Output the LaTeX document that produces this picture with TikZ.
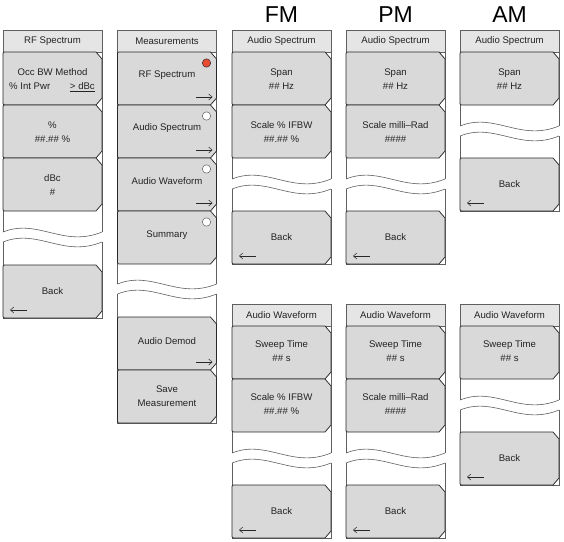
\documentclass[tikz,border=0pt]{standalone}
\usepackage{fontspec}
\setmainfont{Liberation Sans}
\usetikzlibrary{arrows.meta}
\definecolor{btngray}{RGB}{217,217,217}
\definecolor{hdrgray}{RGB}{229,229,229}
\definecolor{edgec}{RGB}{40,40,40}
\definecolor{framec}{RGB}{95,95,95}
\definecolor{selred}{RGB}{232,76,50}
\definecolor{txt}{RGB}{35,35,35}
\tikzset{
 btnshape/.style={draw=edgec, fill=btngray, line width=0.75pt},
 hdrbox/.style={draw=framec, fill=hdrgray, line width=0.6pt},
 framel/.style={draw=framec, line width=0.6pt},
 lbl/.style={font=\fontsize{9.6}{14}\selectfont, align=center, text=txt, inner sep=0pt},
 bigtitle/.style={font=\fontsize{23}{26}\selectfont, text=black, inner sep=0pt},
 fwd/.style={-{Straight Barb[length=3.5pt,width=6pt]}, draw=edgec, line width=0.5pt},
 selmark/.style={draw=edgec, fill=selred, line width=0.5pt},
 unselmark/.style={draw=framec, fill=white, line width=0.5pt},
}
% button: #1 = left x, #2 = top y, #3 = bottom y
\newcommand\mybtn[3]{%
  \draw[btnshape] ({#1+3.5},#2) -- ({#1+93},#2) -- ({#1+99},{#2+7}) -- ({#1+99},{#3-7}) -- ({#1+93},#3) -- ({#1+3.5},#3) .. controls (#1,#3) .. (#1,{#3-3.5}) -- (#1,{#2+3.5}) .. controls (#1,#2) .. ({#1+3.5},#2) -- cycle;}
% frame: #1 = left x, #2 = top y, #3 = upper wave y, #4 = bottom y
\newcommand\myframe[4]{%
  \draw[framel] (#1,#3) -- (#1,#2) -- ({#1+99},#2) -- ({#1+99},#3);
  \draw[framel] (#1,#3) .. controls ({#1+35},{#3-14}) and ({#1+60},{#3+16}) .. ({#1+99},#3);
  \draw[framel] (#1,{#3+10}) .. controls ({#1+35},{#3-4}) and ({#1+60},{#3+26}) .. ({#1+99},{#3+10});
  \draw[framel] (#1,{#3+10}) -- (#1,#4) -- ({#1+99},#4) -- ({#1+99},{#3+10});}
\newcommand\myhdr[2]{\draw[hdrbox] (#1,#2) rectangle ({#1+99},{#2+22});}
\newcommand\fwdarrow[2]{\draw[fwd] ({#1+78},{#2-8}) -- ({#1+95},{#2-8});}
\newcommand\bckarrow[2]{\draw[fwd] ({#1+24},{#2-8}) -- ({#1+7},{#2-8});}
\newcommand\selcirc[2]{\draw[selmark] ({#1+89},{#2+11}) circle (4.2);}
\newcommand\unselcirc[2]{\draw[unselmark] ({#1+89},{#2+11}) circle (4.2);}
\begin{document}
\begin{tikzpicture}[x=1pt,y=-1pt]
\useasboundingbox (0,0) rectangle (564,541);
% titles
\node[bigtitle] (tfm) at (281.5,15) {FM};
\node[bigtitle] (tpm) at (395.5,15) {PM};
\node[bigtitle] (tam) at (509.5,15) {AM};

% ---- column 1: RF Spectrum
\myframe{3}{30}{232}{318}
\myhdr{3}{30}
\mybtn{3}{52}{105}
\mybtn{3}{105}{158}
\mybtn{3}{158}{211}
\mybtn{3}{265}{318}
\bckarrow{3}{318}
\node[lbl] (h1) at (52.5,41) {RF Spectrum};
\node[lbl] (a1) at (52.5,72) {Occ BW Method};
\node[lbl, anchor=base west] (a1l) at (9,89.5) {\% Int Pwr};
\node[lbl, anchor=base east] (a1r) at (95,89.5) {\underline{> dBc}};
\node[lbl] (a2) at (52.5,132) {\%\\\#\#.\#\# \%};
\node[lbl] (a3) at (52.5,185) {dBc\\\#};
\node[lbl] (a4) at (52.5,291.5) {Back};

% ---- column 2: Measurements
\myframe{117.5}{30}{284}{423}
\myhdr{117.5}{30}
\mybtn{117.5}{52}{105}
\mybtn{117.5}{105}{158}
\mybtn{117.5}{158}{211}
\mybtn{117.5}{211}{264}
\mybtn{117.5}{317}{370}
\mybtn{117.5}{370}{423}
\selcirc{117.5}{52}
\unselcirc{117.5}{105}
\unselcirc{117.5}{158}
\unselcirc{117.5}{211}
\fwdarrow{117.5}{105}
\fwdarrow{117.5}{158}
\fwdarrow{117.5}{211}
\fwdarrow{117.5}{370}
\node[lbl] (h2) at (167,41) {Measurements};
\node[lbl] (m1) at (167,75.5) {RF Spectrum};
\node[lbl] (m2) at (167,128.5) {Audio Spectrum};
\node[lbl] (m3) at (167,181.5) {Audio Waveform};
\node[lbl] (m4) at (167,235) {Summary};
\node[lbl] (m5) at (167,341) {Audio Demod};
\node[lbl] (m6) at (167,396.5) {Save\\Measurement};

% ---- column 3: FM audio spectrum
\myframe{232}{30}{179}{264}
\myhdr{232}{30}
\mybtn{232}{52}{105}
\mybtn{232}{105}{158}
\mybtn{232}{211}{264}
\bckarrow{232}{264}
\node[lbl] (h3) at (281.5,41) {Audio Spectrum};
\node[lbl] (f1) at (281.5,79) {Span\\\#\# Hz};
\node[lbl] (f2) at (281.5,132) {Scale \% IFBW\\\#\#.\#\# \%};
\node[lbl] (f3) at (281.5,237.5) {Back};

% ---- column 3: FM audio waveform
\myframe{232}{304}{453}{538}
\myhdr{232}{304}
\mybtn{232}{326}{379}
\mybtn{232}{379}{432}
\mybtn{232}{485}{538}
\bckarrow{232}{538}
\node[lbl] (h3b) at (281.5,315) {Audio Waveform};
\node[lbl] (fw1) at (281.5,351) {Sweep Time\\\#\# s};
\node[lbl] (fw2) at (281.5,404) {Scale \% IFBW\\\#\#.\#\# \%};
\node[lbl] (fw3) at (281.5,511.5) {Back};

% ---- column 4: PM audio spectrum
\myframe{346}{30}{179}{264}
\myhdr{346}{30}
\mybtn{346}{52}{105}
\mybtn{346}{105}{158}
\mybtn{346}{211}{264}
\bckarrow{346}{264}
\node[lbl] (h4) at (395.5,41) {Audio Spectrum};
\node[lbl] (p1) at (395.5,79) {Span\\\#\# Hz};
\node[lbl] (p2) at (395.5,132) {Scale milli–Rad\\\#\#\#\#};
\node[lbl] (p3) at (395.5,237.5) {Back};

% ---- column 4: PM audio waveform
\myframe{346}{304}{453}{538}
\myhdr{346}{304}
\mybtn{346}{326}{379}
\mybtn{346}{379}{432}
\mybtn{346}{485}{538}
\bckarrow{346}{538}
\node[lbl] (h4b) at (395.5,315) {Audio Waveform};
\node[lbl] (pw1) at (395.5,351) {Sweep Time\\\#\# s};
\node[lbl] (pw2) at (395.5,404) {Scale milli–Rad\\\#\#\#\#};
\node[lbl] (pw3) at (395.5,511.5) {Back};

% ---- column 5: AM audio spectrum
\myframe{460}{30}{126}{211}
\myhdr{460}{30}
\mybtn{460}{52}{105}
\mybtn{460}{158}{211}
\bckarrow{460}{211}
\node[lbl] (h5) at (509.5,41) {Audio Spectrum};
\node[lbl] (s1) at (509.5,79) {Span\\\#\# Hz};
\node[lbl] (s2) at (509.5,184.5) {Back};

% ---- column 5: AM audio waveform
\myframe{460}{304}{400}{485}
\myhdr{460}{304}
\mybtn{460}{326}{379}
\mybtn{460}{432}{485}
\bckarrow{460}{485}
\node[lbl] (h5b) at (509.5,315) {Audio Waveform};
\node[lbl] (sw1) at (509.5,351) {Sweep Time\\\#\# s};
\node[lbl] (sw2) at (509.5,458.5) {Back};
\end{tikzpicture}
\end{document}
